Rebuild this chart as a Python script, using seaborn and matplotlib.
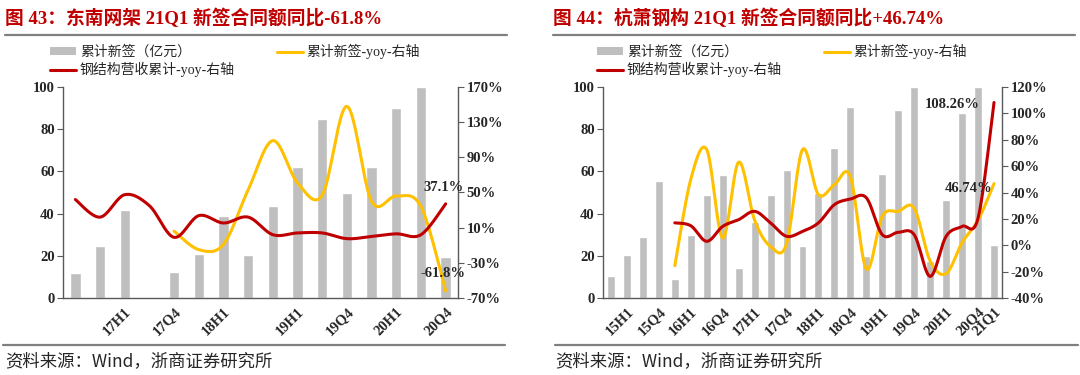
import numpy as np
import matplotlib
matplotlib.use('Agg')
import matplotlib.pyplot as plt
import seaborn as sns
from matplotlib.lines import Line2D
from matplotlib.patches import Patch

# 数据
left_cats = ['16Q4', '17Q1', '17H1', '17Q3', '17Q4', '18Q1', '18H1', '18Q3',
             '19Q1', '19H1', '19Q3', '19Q4', '20Q1', '20H1', '20Q3', '20Q4']
left_shown = ['17H1', '17Q4', '18H1', '19H1', '19Q4', '20H1', '20Q4']
left_sign = [11.8, 24.5, 41.7, np.nan, 12.5, 21.0, 38.9, 20.4,
             43.4, 62.0, 84.7, 49.9, 62.0, 89.9, 100.0, 19.3]
left_sign_yoy = [np.nan, np.nan, np.nan, np.nan, 6, -15, -9, 53,
                 109, 61, 47, 148, 40, 46, 34, -61.8]
left_steel_yoy = [42, 22, 47.5, 35, -1, 23.7, 15.3, 22,
                  2, 4, 4, -2.5, 0, 3, 2, 37.1]

right_cats = ['15Q1', '15H1', '15Q3', '15Q4', '16Q1', '16H1', '16Q3', '16Q4',
              '17Q1', '17H1', '17Q3', '17Q4', '18Q1', '18H1', '18Q3', '18Q4',
              '19Q1', '19H1', '19Q3', '19Q4', '20Q1', '20H1', '20Q3', '20Q4', '21Q1']
right_shown = ['15H1', '15Q4', '16H1', '16Q4', '17H1', '17Q4', '18H1', '18Q4',
               '19H1', '19Q4', '20H1', '20Q4', '21Q1']
right_sign = [10.3, 20.2, 28.8, 55.5, 9.0, 30.0, 49.0, 58.3, 14.2, 36.0, 49.0, 60.5,
              24.5, 49.8, 71.1, 90.4, 20.0, 58.8, 89.0, 100.0, 17.4, 46.6, 87.7, 100.0, 25.3]
right_sign_yoy = [np.nan, np.nan, np.nan, np.nan, -15.5, 50, 72.5, 5.5, 63, 19, -1, 1,
                  72.5, 38.4, 46, 52, -18, 22, 25.7, 28, -12, -21.5, 2, 19, 46.74]
right_steel_yoy = [np.nan, np.nan, np.nan, np.nan, 17, 14.8, 3, 14.3, 19.4, 25.7, 16.9, 6.8,
                   10.5, 17, 30.8, 35, 36, 8, 9.8, 8, -23.6, 6.8, 14.3, 20.6, 108.26]

BAR_C = '#BFBFBF'
YEL_C = '#FFC000'
RED_C = '#C00000'
TITLE_C = '#C00000'

sns.set_style('white')
plt.rcParams['font.family'] = ['Liberation Serif', 'Noto Sans CJK SC', 'DejaVu Sans']
plt.rcParams['axes.unicode_minus'] = False


def smooth_curve(vals, n=24):
    """Excel 风格平滑线 (贝塞尔)"""
    v = np.asarray(vals, dtype=float)
    idx = np.where(~np.isnan(v))[0]
    pts = np.column_stack([idx.astype(float), v[idx]])
    out = []
    t = np.linspace(0, 1, n)[:, None]
    for i in range(len(pts) - 1):
        p0 = pts[i - 1] if i > 0 else pts[i]
        p1, p2 = pts[i], pts[i + 1]
        p3 = pts[i + 2] if i + 2 < len(pts) else pts[i + 1]
        c1 = p1 + (p2 - p0) / 6
        c2 = p2 - (p3 - p1) / 6
        seg = (1 - t) ** 3 * p1 + 3 * (1 - t) ** 2 * t * c1 + 3 * (1 - t) * t ** 2 * c2 + t ** 3 * p2
        out.append(seg if i == 0 else seg[1:])
    return np.vstack(out)


def draw_panel(rect, cats, shown, bars, yoy, steel, y2lim, y2ticks, bar_w, notes):
    ax = fig.add_axes(rect)
    n = len(cats)
    sns.barplot(x=list(range(n)), y=bars, color=BAR_C, width=bar_w, ax=ax,
                saturation=1, native_scale=True)
    ax.set_xlim(-0.5, n - 0.5)
    ax.set_ylim(0, 100)
    ax.set_yticks(range(0, 101, 20))
    ax.set_yticklabels([str(v) for v in range(0, 101, 20)],
                       fontsize=10.5, fontweight='bold')
    ax.set_xticks(range(n))
    ax.set_xticklabels([c if c in shown else '' for c in cats], rotation=45,
                       ha='right', rotation_mode='anchor', fontsize=10.5, fontweight='bold')
    ax.set_xticks(np.arange(-0.5, n), minor=True)
    ax.tick_params(axis='x', which='major', length=0, pad=5)
    ax.tick_params(axis='x', which='minor', length=4, color='#595959', direction='out')
    ax.tick_params(axis='y', length=4, color='#595959', direction='out', pad=2)
    ax.set_xlabel('')
    ax.set_ylabel('')
    for s in ['top', 'right']:
        ax.spines[s].set_visible(False)
    for s in ['left', 'bottom']:
        ax.spines[s].set_color('#595959')
        ax.spines[s].set_linewidth(1)

    ax2 = ax.twinx()
    ys = smooth_curve(yoy)
    sns.lineplot(x=ys[:, 0], y=ys[:, 1], ax=ax2, color=YEL_C, lw=2.2,
                 sort=False, estimator=None)
    rs = smooth_curve(steel)
    sns.lineplot(x=rs[:, 0], y=rs[:, 1], ax=ax2, color=RED_C, lw=2.2,
                 sort=False, estimator=None)
    ax2.set_xlim(-0.5, n - 0.5)
    ax2.set_ylim(*y2lim)
    ax2.set_yticks(y2ticks)
    ax2.set_yticklabels([f'{v}%' for v in y2ticks], fontsize=10.5, fontweight='bold')
    ax2.tick_params(axis='y', length=4, color='#595959', direction='out', pad=2)
    ax2.set_ylabel('')
    for s in ['top', 'left', 'bottom']:
        ax2.spines[s].set_visible(False)
    ax2.spines['right'].set_color('#595959')
    ax2.spines['right'].set_linewidth(1)

    for txt, x, y in notes:
        ax2.text(x, y, txt, ha='center', va='center', fontsize=10.5, fontweight='bold')
    return ax, ax2


fig = plt.figure(figsize=(10.8, 3.75), dpi=100)

draw_panel([63 / 1080, 1 - 298 / 375, 395 / 1080, 211 / 375],
           left_cats, left_shown, left_sign, left_sign_yoy, left_steel_yoy,
           (-70, 170), list(range(-70, 171, 40)), 0.42,
           [('37.1%', 14.9, 56), ('-61.8%', 14.9, -42)])
draw_panel([603 / 1080, 1 - 298 / 375, 399 / 1080, 211 / 375],
           right_cats, right_shown, right_sign, right_sign_yoy, right_steel_yoy,
           (-40, 120), list(range(-40, 121, 20)), 0.5,
           [('108.26%', 21.4, 107), ('46.74%', 22.4, 43)])

# 图例
handles = [Patch(facecolor=BAR_C, edgecolor='none'),
           Line2D([], [], color=RED_C, lw=2.2),
           Line2D([], [], color=YEL_C, lw=2.2)]
labels = ['累计新签（亿元）', '钢结构营收累计-yoy-右轴', '累计新签-yoy-右轴']
for x0 in [50 / 1080, 597 / 1080]:
    fig.legend(handles, labels, ncol=2, loc='upper left', bbox_to_anchor=(x0, 1 - 44 / 375),
               frameon=False, handlelength=1.9, handleheight=0.5,
               handletextpad=0.25, labelspacing=0.2, columnspacing=3.0,
               borderpad=0, borderaxespad=0, prop={'weight': 'normal', 'size': 10})

# 标题与分隔线
fig.text(5 / 1080, 1 - 18 / 375, '图 43：东南网架 21Q1 新签合同额同比-61.8%',
         fontsize=13.5, fontweight='bold', color=TITLE_C, va='center', ha='left')
fig.text(553 / 1080, 1 - 18 / 375, '图 44：杭萧钢构 21Q1 新签合同额同比+46.74%',
         fontsize=13.5, fontweight='bold', color=TITLE_C, va='center', ha='left')
for x0, x1 in [(5, 507), (553, 1075)]:
    fig.add_artist(Line2D([x0 / 1080, x1 / 1080], [1 - 35 / 375] * 2,
                          transform=fig.transFigure, color='#808080', lw=1.6))
for x0, x1 in [(3, 505), (555, 1078)]:
    fig.add_artist(Line2D([x0 / 1080, x1 / 1080], [1 - 345 / 375] * 2,
                          transform=fig.transFigure, color='#808080', lw=1.6))
fig.text(5 / 1080, 1 - 361 / 375, '资料来源：Wind，浙商证券研究所',
         fontsize=12.5, va='center', ha='left', family=['Noto Sans CJK SC', 'DejaVu Sans'])
fig.text(555 / 1080, 1 - 361 / 375, '资料来源：Wind，浙商证券研究所',
         fontsize=12.5, va='center', ha='left', family=['Noto Sans CJK SC', 'DejaVu Sans'])

fig.savefig('out.png', dpi=100)
